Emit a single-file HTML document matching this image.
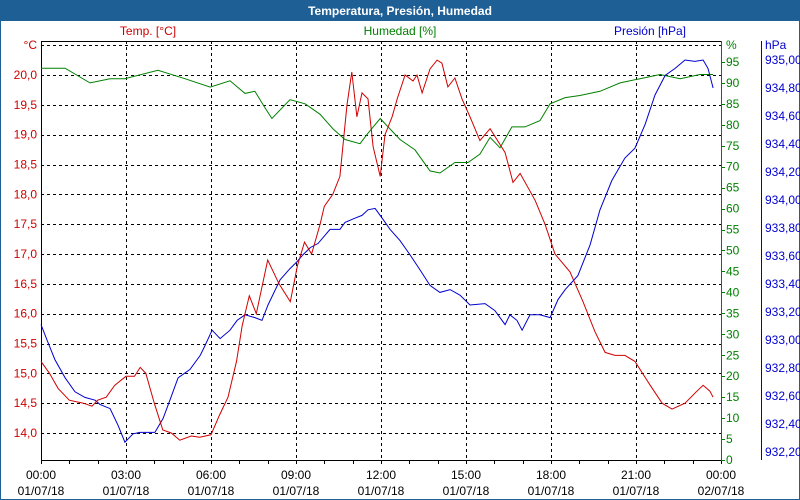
<!DOCTYPE html>
<html><head><meta charset="utf-8">
<style>
body{margin:0;width:800px;height:500px;overflow:hidden;background:#fff;font-family:"Liberation Sans",sans-serif;}
#wrap{position:absolute;left:0;top:0;width:798px;height:498px;border:1px solid #1e5f96;background:#fff;}
#titlebar{position:absolute;left:0;top:0;width:798px;height:20px;background:#1e5f96;color:#fff;font-weight:bold;font-size:12px;text-align:center;line-height:20px;}
svg{position:absolute;left:0;top:0;}
text{font-family:"Liberation Sans",sans-serif;font-size:12px;}
</style></head><body>
<div id="wrap">
<div id="titlebar">Temperatura, Presión, Humedad</div>
</div>
<svg id="chart" width="800" height="500"></svg>
<script>
const tempHours=[0,.3,.6,1,1.5,1.8,2,2.3,2.6,3,3.3,3.5,3.7,4,4.3,4.6,4.9,5.3,5.6,6,6.3,6.6,6.9,7.1,7.35,7.6,8,8.4,8.8,9.05,9.3,9.55,9.85,10,10.3,10.55,10.8,10.97,11.15,11.33,11.54,11.72,11.97,12.14,12.39,12.57,12.85,13.13,13.27,13.45,13.73,13.98,14.15,14.36,14.61,14.86,15.14,15.49,15.85,16.38,16.66,16.91,17.44,17.79,18.14,18.67,19.13,19.55,19.91,20.26,20.61,20.96,21.5,21.92,22.27,22.73,23.15,23.37,23.61,23.72];
const tempValues=[15.2,15.0,14.75,14.55,14.5,14.45,14.55,14.6,14.8,14.95,14.95,15.1,15.0,14.5,14.05,14.0,13.88,13.95,13.93,13.97,14.3,14.6,15.2,15.8,16.3,16.0,16.9,16.5,16.2,16.8,17.2,17.0,17.5,17.8,18.0,18.3,19.5,20.05,19.3,19.7,19.6,18.8,18.3,19.0,19.3,19.6,20.0,19.9,20.0,19.7,20.1,20.25,20.2,19.8,19.95,19.6,19.3,18.9,19.1,18.7,18.2,18.35,17.9,17.5,17.0,16.7,16.2,15.7,15.35,15.3,15.3,15.2,14.8,14.5,14.4,14.5,14.7,14.8,14.7,14.6];
const humHours=[0,.85,1.73,2.44,2.96,4.13,5.08,5.97,6.67,7.2,7.55,7.91,8.15,8.79,9.32,9.85,10.31,10.73,11.26,11.54,11.97,12.32,12.67,13.2,13.73,14.08,14.61,15.07,15.49,15.85,16.2,16.62,17.08,17.61,17.97,18.5,19.02,19.73,20.44,21.14,21.85,22.56,23.26,23.72];
const humValues=[93.5,93.5,90,91,91,93,91,89,90.5,87.5,88,84,81.5,86,85,82.5,79,76.5,75.5,78,81.5,79,76.5,74,69,68.5,71,71,73,77,74.5,79.5,79.5,81,85,86.5,87,88,90,91,92,91,92,92];
const presHours=[0,.21,.49,.85,1.2,1.55,1.91,2.08,2.44,2.72,2.96,3.25,3.49,3.85,4.02,4.31,4.55,4.84,5.26,5.62,5.79,6.04,6.32,6.67,6.92,7.2,7.55,7.8,8.01,8.44,8.79,9.04,9.25,9.5,9.78,10.2,10.55,10.73,11.08,11.33,11.54,11.79,11.97,12.32,12.67,13.02,13.38,13.73,14.08,14.44,14.79,15.14,15.67,16.02,16.38,16.55,16.8,16.98,17.26,17.61,17.97,18.25,18.5,18.95,19.38,19.73,20.15,20.61,20.96,21.32,21.67,22.03,22.38,22.73,23.08,23.37,23.54,23.72];
const presValues=[933.11,933.00,932.86,932.73,932.63,932.59,932.57,932.54,932.51,932.39,932.27,932.33,932.34,932.34,932.34,932.44,932.57,932.73,932.79,932.89,932.96,933.07,933.01,933.07,933.14,933.18,933.16,933.14,933.25,933.43,933.51,933.56,933.61,933.66,933.69,933.79,933.79,933.84,933.87,933.89,933.93,933.94,933.89,933.79,933.71,933.61,933.50,933.39,933.34,933.36,933.32,933.25,933.26,933.21,933.11,933.18,933.14,933.07,933.18,933.18,933.16,933.29,933.36,933.46,933.68,933.93,934.14,934.30,934.37,934.54,934.75,934.89,934.94,935.00,934.99,935.00,934.94,934.80];
const tempTicks=["14,0","14,5","15,0","15,5","16,0","16,5","17,0","17,5","18,0","18,5","19,0","19,5","20,0"];
const humTicks=["0","5","10","15","20","25","30","35","40","45","50","55","60","65","70","75","80","85","90","95"];
const presTicks=["932,20","932,40","932,60","932,80","933,00","933,20","933,40","933,60","933,80","934,00","934,20","934,40","934,60","934,80","935,00"];
const timeLabels=["00:00","03:00","06:00","09:00","12:00","15:00","18:00","21:00","00:00"];
const dateLabels=["01/07/18","01/07/18","01/07/18","01/07/18","01/07/18","01/07/18","01/07/18","01/07/18","02/07/18"];

const L=41,R=721,T=41,B=460;
const xS=h=>L+h*(R-L)/24;
const yT=v=>75+(20-v)*(433-75)/6;
const yH=v=>460-v*4.19;
const yP=v=>60+(935-v)*140;
const svg=document.getElementById('chart');
const NS='http://www.w3.org/2000/svg';
function mk(tag,attrs,parent){const e=document.createElementNS(NS,tag);for(const k in attrs)e.setAttribute(k,attrs[k]);(parent||svg).appendChild(e);return e;}
function txt(s,x,y,fill,anchor){const e=mk('text',{x:x,y:y,fill:fill,'text-anchor':anchor||'start'});e.textContent=s;return e;}

const grid=mk('g',{});


for(let v=14;v<=20.51;v+=0.5){const y=Math.round(yT(v))+.5;mk('line',{x1:L,x2:R,y1:y,y2:y,stroke:'#000','stroke-dasharray':'3,3'},grid);}
for(let h=3;h<24;h+=3){const x=Math.round(xS(h))+.5;mk('line',{x1:x,x2:x,y1:T,y2:B,stroke:'#000','stroke-dasharray':'3,3'},grid);}
const fr=mk('g',{});


mk('line',{x1:L+.5,x2:L+.5,y1:T,y2:B,stroke:'#000'},fr);
mk('line',{x1:L,x2:R,y1:T+.5,y2:T+.5,stroke:'#000'},fr);
mk('line',{x1:L,x2:R,y1:B+.5,y2:B+.5,stroke:'#000'},fr);
mk('line',{x1:R+.5,x2:R+.5,y1:T,y2:B+2,stroke:'#008000'},fr);
mk('line',{x1:761.5,x2:761.5,y1:T,y2:B,stroke:'#0000d0'},fr);
for(let h=0;h<=24;h++){const x=Math.round(xS(h))+.5;mk('line',{x1:x,x2:x,y1:B,y2:B+4,stroke:'#000'},fr);}
timeLabels.forEach((s,i)=>{const x=xS(i*3);
 const a=txt(s,x,479,'#000','middle');
 const b=txt(dateLabels[i],x,495,'#000','middle');});
tempTicks.forEach((s,i)=>{const e=txt(s,37,yT(14+i*0.5)+4,'#d00000','end');});
let e=txt('°C',37,49,'#d00000','end');
humTicks.forEach((s,i)=>{const y=yH(i*5);mk('line',{x1:R,x2:R+4,y1:Math.round(y)+.5,y2:Math.round(y)+.5,stroke:'#008000'},fr);const t=txt(s,726,y+4,'#008000');});
e=txt('%',726,49,'#008000');
presTicks.forEach((s,i)=>{const y=yP(932.2+i*0.2);const t=txt(s,765,y+4,'#0000d0');});
e=txt('hPa',765,49,'#0000d0');
e=txt('Temp. [°C]',148,35,'#d00000','middle');
e=txt('Humedad [%]',400,35,'#008000','middle');
e=txt('Presión [hPa]',686,35,'#0000d0','end');
function line(hs,vs,yf,color,name){const p=hs.map((h,i)=>xS(h).toFixed(1)+','+yf(vs[i]).toFixed(1)).join(' ');
 const pl=mk('polyline',{points:p,fill:'none',stroke:color,'stroke-width':1});
 
 }
line(humHours,humValues,yH,'#008000','humidity-line');
line(presHours,presValues,yP,'#0000d0','pressure-line');
line(tempHours,tempValues,yT,'#d00000','temperature-line');
</script>
</body></html>
